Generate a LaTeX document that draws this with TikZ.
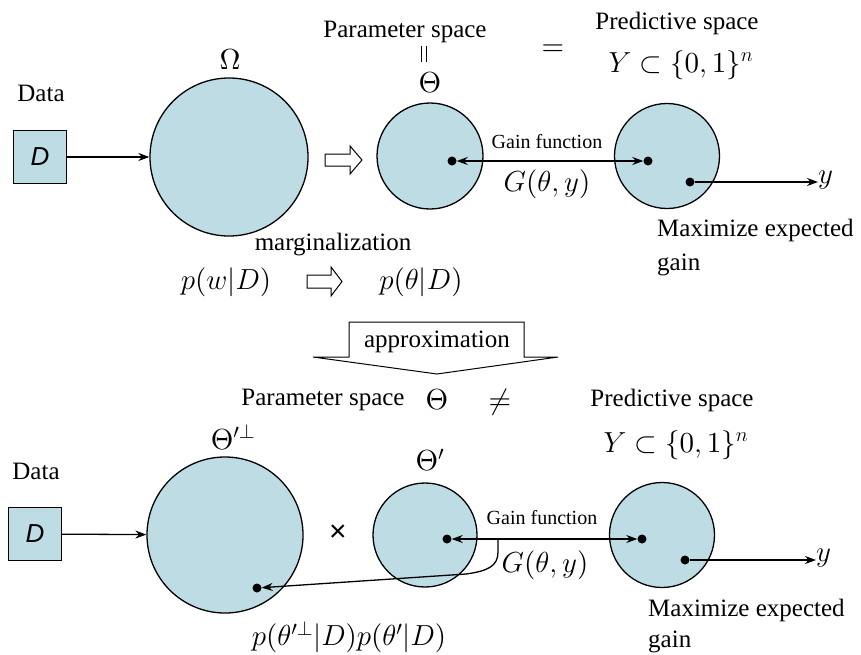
\RequirePackage{fix-cm}
\documentclass[tikz,border=0pt]{standalone}
\usepackage[no-math]{fontspec}
\setmainfont{Liberation Serif}
\newfontfamily\arialfont{Liberation Sans}
\DeclareFontFamily{OT1}{mycmr}{}
\DeclareFontShape{OT1}{mycmr}{m}{n}{<->cmr10}{}
\DeclareSymbolFont{operators}{OT1}{mycmr}{m}{n}
\SetSymbolFont{operators}{bold}{OT1}{mycmr}{m}{n}
\usetikzlibrary{arrows.meta}
\definecolor{circfill}{RGB}{190,220,228}
\begin{document}
\begin{tikzpicture}[x=1pt,y=-1pt,
 space/.style={circle,draw=black,line width=1.3pt,fill=circfill,inner sep=0pt},
 databox/.style={draw=black,line width=1.2pt,fill=circfill,minimum size=53pt,inner sep=0pt,font=\arialfont\itshape\fontsize{26}{30}\selectfont},
 txt/.style={font=\fontsize{25}{30}\selectfont,inner sep=0pt},
 smalltxt/.style={font=\fontsize{20}{24}\selectfont,inner sep=0pt},
 mth/.style={font=\fontsize{29}{34}\selectfont,inner sep=0pt},
 dotpt/.style={circle,fill=black,inner sep=0pt,minimum size=9pt},
 arr/.style={line width=1.3pt,-{Stealth[length=11pt,width=8pt]}},
 darr/.style={line width=1.3pt,{Stealth[length=11pt,width=8pt]}-{Stealth[length=11pt,width=8pt]}},
 hollow/.style={draw=black,line width=1pt,fill=white,line join=miter},
 vbar/.style={line width=1.1pt}
]
\useasboundingbox (0,0) rectangle (861,654);

% ---------------- top part ----------------
\node[txt] (data1) at (41,93) {Data};
\node[databox] (D1) at (40,157) {D};
\node[space,minimum size=158pt] (omega) at (229,157) {};
\node[mth] (omegaL) at (230,60) {$\Omega$};
\draw[arr] (D1) -- (omega);

\draw[hollow] (325,154) -- (350,154) -- (350,146) -- (362,160) -- (350,174) -- (350,166) -- (325,166) -- cycle;

\node[space,minimum size=106pt] (theta) at (430,156) {};
\node[space,minimum size=105pt] (Y1) at (667,156) {};
\node[txt] (ps1) at (405,32) {Parameter space};
% vertical equal sign
\node[inner sep=0pt,minimum width=5pt,minimum height=15pt] (eqv) at (424,54) {};
\draw[vbar] (eqv.north west) -- (eqv.south west);
\draw[vbar] (eqv.north east) -- (eqv.south east);
\node[mth] (thetaL) at (430,83) {$\Theta$};
\node[mth] (eq) at (553,50) {$=$};
\node[txt] (pred1) at (677,23) {Predictive space};
\node[mth] (Yset1) at (681,65) {$Y\subset\{0,1\}^n$};

\node[dotpt] (d1) at (452,161) {};
\node[dotpt] (d2) at (648,161) {};
\draw[darr] (d1) -- (d2);
\node[smalltxt] (gain1) at (547,142) {Gain function};
\node[mth] (G1) at (547,184) {$G(\theta,y)$};
\node[dotpt] (d3) at (690,182) {};
\node[mth,anchor=west] (y1) at (818,180) {$y$};
\draw[arr] (d3) -- (d3 -| y1.west);
\node[txt,anchor=base west] (max1) at (657,236) {Maximize expected};
\node[txt,anchor=base west] (gainw1) at (657,270) {gain};

\node[txt] (marg) at (333,245) {marginalization};
\node[mth] (pw) at (226,282) {$p(w|D)$};
\draw[hollow] (307,275) -- (331,275) -- (331,267) -- (342,281.5) -- (331,296) -- (331,288) -- (307,288) -- cycle;
\node[mth] (pth) at (421,282) {$p(\theta|D)$};

% ---------------- approximation arrow ----------------
\draw[hollow] (349,322) -- (524,322) -- (524,357) -- (558,357) -- (437,374) -- (313,357) -- (349,357) -- cycle;
\node[txt] (approx) at (437,342) {approximation};

% ---------------- bottom part ----------------
\node[txt] (ps2) at (323,400) {Parameter space};
\node[mth] (thetaB) at (437,400) {$\Theta$};
\node[mth] (neq) at (500,402) {$\neq$};
\node[txt] (pred2) at (672,400) {Predictive space};
\node[mth] (Yset2) at (676,445) {$Y\subset\{0,1\}^n$};

\node[txt] (data2) at (36,471) {Data};
\node[databox] (D2) at (35,534) {D};
\node[space,minimum size=156pt] (perp) at (225,535) {};
\node[mth] (perpL) at (233,437) {$\Theta'^{\perp}$};
\draw[arr] (D2) -- (perp);
\node[inner sep=0pt,font=\arialfont\fontsize{30}{34}\selectfont] (times) at (338,533) {×};

\node[space,minimum size=104pt] (thp) at (425,535) {};
\node[mth] (thpL) at (430,460) {$\Theta'$};
\node[space,minimum size=105pt] (Y2) at (662,535) {};

\node[dotpt] (e1) at (447,539) {};
\node[dotpt] (e2) at (642,539) {};
\draw[darr] (e1) -- (e2);
\node[smalltxt] (gain2) at (542,518) {Gain function};
\node[mth] (G2) at (545,565) {$G(\theta,y)$};
\node[dotpt] (e3) at (685,560) {};
\node[mth,anchor=west] (y2) at (816,558) {$y$};
\draw[arr] (e3) -- (e3 -| y2.west);
\node[txt,anchor=base west] (max2) at (648,616) {Maximize expected};
\node[txt,anchor=base west] (gainw2) at (648,647) {gain};

\node[dotpt] (eL) at (257,588) {};
\coordinate (c1) at (498,539);
\draw[arr] (c1) -- (498,552) .. controls (498,566) and (488,571) .. (466,574) -- (eL);

\node[mth] (pprod) at (349,637) {$p(\theta'^{\perp}|D)p(\theta'|D)$};
\end{tikzpicture}
\end{document}
